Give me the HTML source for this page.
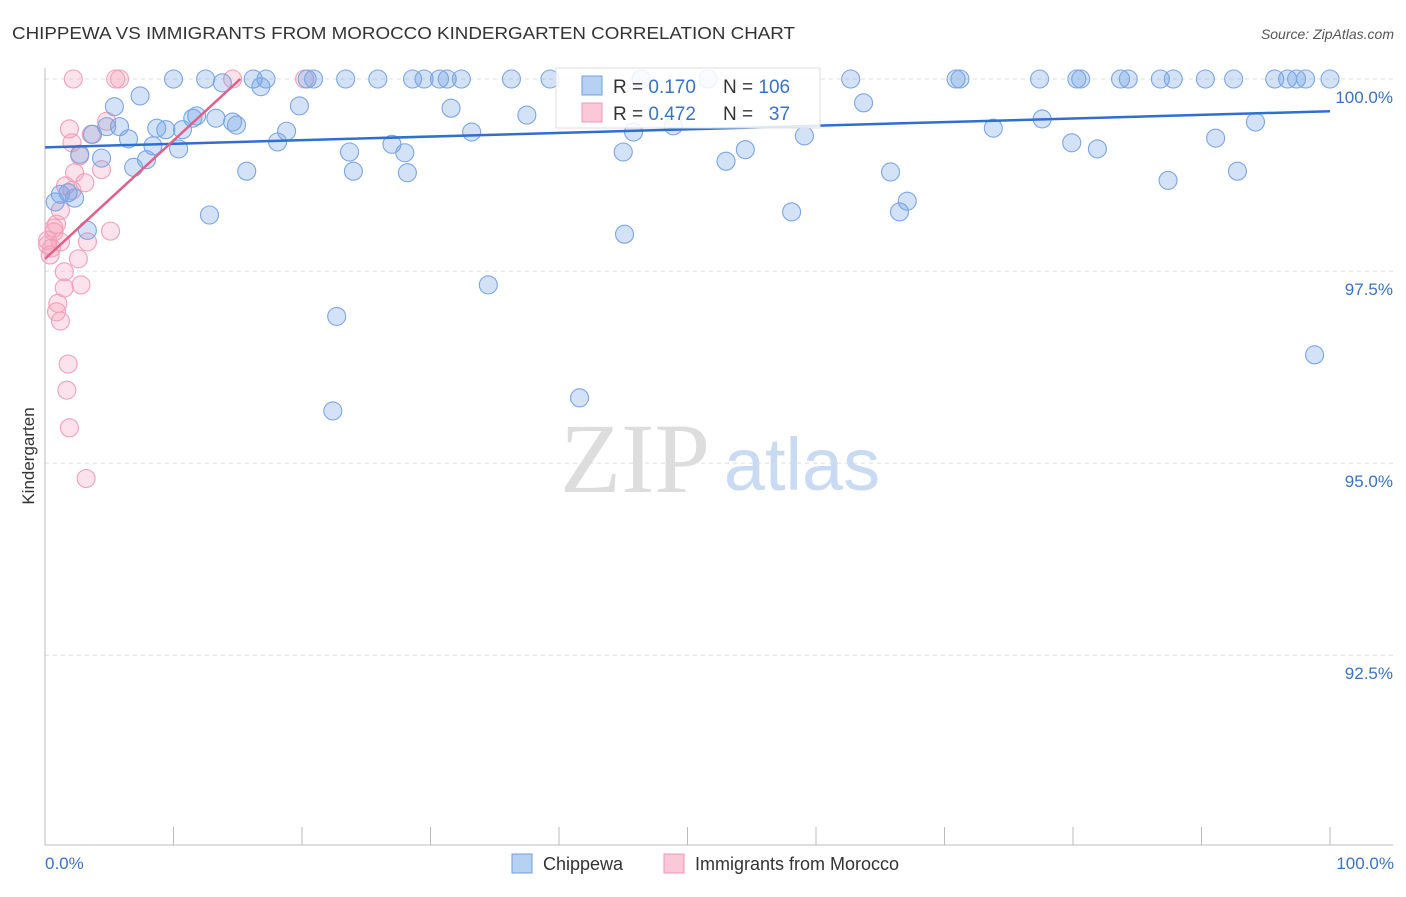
<!DOCTYPE html>
<html><head><meta charset="utf-8"><style>
body{margin:0;background:#fff;font-family:"Liberation Sans",sans-serif;}
</style></head><body>
<svg id="chart" width="1406" height="892" xmlns="http://www.w3.org/2000/svg" font-family="Liberation Sans, sans-serif">
<text x="12" y="39" font-size="17.5" fill="#333" textLength="783" lengthAdjust="spacingAndGlyphs">CHIPPEWA VS IMMIGRANTS FROM MOROCCO KINDERGARTEN CORRELATION CHART</text>
<text x="1394" y="39" font-size="14" fill="#555" font-style="italic" text-anchor="end">Source: ZipAtlas.com</text>
<g>
<text x="635" y="492" font-size="100" fill="#ddd" font-family="Liberation Serif, serif" text-anchor="middle">ZIP</text>
<text x="802" y="490" font-size="74" fill="#c9dbf2" text-anchor="middle">atlas</text>
</g>
<g id="grid"></g><g id="axes"></g><g id="pts"></g><g id="trend"></g>
<g>
<rect x="556" y="68" width="264" height="60" fill="#fff" fill-opacity="0.85" stroke="#ddd"/>
<rect x="582" y="76" width="20" height="19" fill="#b7d1f3" stroke="#6c9ee0"/>
<rect x="582" y="103" width="20" height="19" fill="#fac8d6" stroke="#ee9ab4"/>
<text x="613" y="93" font-size="19" fill="#333">R = <tspan fill="#3a72c8">0.170</tspan></text>
<text x="723" y="93" font-size="19" fill="#333">N = <tspan fill="#3a72c8">106</tspan></text>
<text x="613" y="120" font-size="19" fill="#333">R = <tspan fill="#3a72c8">0.472</tspan></text>
<text x="723" y="120" font-size="19" fill="#333" xml:space="preserve">N = <tspan fill="#3a72c8">  37</tspan></text>
</g>
<text transform="translate(34,456) rotate(-90)" font-size="17" fill="#333" text-anchor="middle">Kindergarten</text>
<text x="45" y="869" font-size="17" fill="#3a72c8">0.0%</text>
<text x="1394" y="869" font-size="17" fill="#3a72c8" text-anchor="end">100.0%</text>
<g><rect x="512" y="854" width="20" height="19" fill="#b7d1f3" stroke="#6c9ee0"/><text x="543" y="870" font-size="18" fill="#333">Chippewa</text></g>
<g><rect x="664" y="854" width="20" height="19" fill="#fac8d6" stroke="#ee9ab4"/><text x="695" y="870" font-size="18" fill="#333">Immigrants from Morocco</text></g>
</svg>
<script>
const yTicks=[100,97.5,95,92.5];
const yTickLabels=["100.0%","97.5%","95.0%","92.5%"];
const xTicks=[10,20,30,40,50,60,70,80,90,100];
const blueX=[10.0,12.5,13.8,16.2,17.2,16.8,20.4,20.9,23.4,25.9,28.6,29.5,30.7,31.3,32.4,36.3,39.3,46.4,51.6,62.7,70.9,71.2,77.4,80.3,80.6,83.7,84.3,86.8,87.8,90.3,92.5,95.7,96.7,97.4,98.1,100,
7.4,5.4,19.8,31.6,63.7,11.8,11.5,13.3,14.6,14.9,5.8,4.8,8.7,9.4,10.7,18.8,3.7,33.2,45.8,48.9,37.5,94.2,73.8,77.6,6.5,18.1,27.0,59.1,91.1,79.9,81.9,8.4,10.4,23.7,28.0,45.0,54.5,4.4,7.9,6.9,53.0,2.7,15.7,24.0,28.2,65.8,92.8,87.4,1.8,1.2,2.3,0.8,67.1,66.5,58.1,12.8,3.3,45.1,34.5,22.7,22.4,41.6,98.8];
const blueY=[100,100,99.95,100,100,99.9,100,100,100,100,100,100,100,100,100,100,100,100,100,100,100,100,100,100,100,100,100,100,100,100,100,100,100,100,100,100,
99.78,99.64,99.65,99.62,99.69,99.52,99.49,99.49,99.44,99.40,99.38,99.38,99.36,99.34,99.34,99.32,99.28,99.31,99.31,99.39,99.53,99.44,99.36,99.48,99.22,99.18,99.15,99.26,99.23,99.17,99.09,99.13,99.09,99.05,99.04,99.05,99.08,98.97,98.95,98.85,98.93,99.02,98.80,98.80,98.78,98.79,98.80,98.68,98.52,98.50,98.45,98.40,98.41,98.27,98.27,98.23,98.03,97.98,97.32,96.91,95.68,95.85,96.41];
const pinkX=[2.2,5.5,5.8,14.6,20.2,1.9,3.6,2.1,4.8,2.7,2.3,4.4,3.1,1.6,1.2,0.9,0.7,0.2,0.5,1.2,3.3,2.6,5.1,1.5,2.8,1.5,1.0,0.9,1.2,1.8,1.7,1.9,3.2,0.4,0.2,0.7,2.1];
const pinkY=[100,100,100,100,100,99.35,99.28,99.17,99.45,99.0,98.78,98.82,98.65,98.61,98.29,98.11,98.01,97.90,97.80,97.88,97.88,97.66,98.02,97.49,97.32,97.28,97.08,96.97,96.85,96.29,95.95,95.46,94.80,97.71,97.84,98.06,98.55];
const blueTrend=[[0,99.11],[100,99.58]];
const pinkTrend=[[0,97.66],[15.2,100]];
const X0=45,X1=1330,YT=79,YB=845,YMIN=90.03,YMAX=100;
const sx=v=>X0+(v/100)*(X1-X0);
const sy=v=>YT+(YMAX-v)/(YMAX-YMIN)*(YB-YT);
const NS="http://www.w3.org/2000/svg";
function mk(t,a,p){const e=document.createElementNS(NS,t);for(const k in a)e.setAttribute(k,a[k]);p.appendChild(e);return e;}
const grid=document.getElementById('grid'),axes=document.getElementById('axes'),pts=document.getElementById('pts'),trend=document.getElementById('trend');
yTicks.forEach((t,i)=>{
 const l=mk('line',{x1:X0,x2:1393,y1:sy(t),y2:sy(t),stroke:'#ddd','stroke-dasharray':'4,4'},grid);
 
 
 const tx=mk('text',{x:1393,y:sy(t)+24,'font-size':17,fill:'#3a72c8','text-anchor':'end'},grid);
 tx.textContent=yTickLabels[i];
 
 
});
const ya=mk('line',{x1:X0,x2:X0,y1:68,y2:YB,stroke:'#bbb'},axes);


const xa=mk('line',{x1:X0,x2:1393,y1:YB,y2:YB,stroke:'#bbb'},axes);


xTicks.forEach(t=>{
 const l=mk('line',{x1:sx(t),x2:sx(t),y1:827,y2:YB,stroke:'#bbb'},axes);
 
 
});
pinkX.forEach((x,i)=>{
 const c=mk('circle',{cx:sx(x),cy:sy(pinkY[i]),r:9,fill:'rgba(246,160,186,0.3)',stroke:'#f0a0b8','stroke-width':1.1},pts);
 
 
});
blueX.forEach((x,i)=>{
 const c=mk('circle',{cx:sx(x),cy:sy(blueY[i]),r:9,fill:'rgba(110,160,230,0.3)',stroke:'#7aa6e4','stroke-width':1.1},pts);
 
 
});
const bt=mk('line',{x1:sx(blueTrend[0][0]),y1:sy(blueTrend[0][1]),x2:sx(blueTrend[1][0]),y2:sy(blueTrend[1][1]),stroke:'#2f6fd0','stroke-width':2.5},trend);


const pt=mk('line',{x1:sx(pinkTrend[0][0]),y1:sy(pinkTrend[0][1]),x2:sx(pinkTrend[1][0]),y2:sy(pinkTrend[1][1]),stroke:'#e0608a','stroke-width':2.5},trend);


</script>
</body></html>
